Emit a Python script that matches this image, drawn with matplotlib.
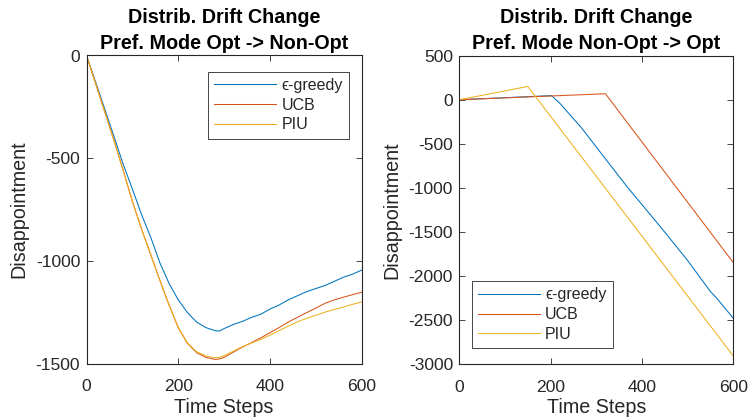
import matplotlib
matplotlib.use("Agg")
import matplotlib.pyplot as plt

plt.rcParams['font.family'] = ['Liberation Sans', 'DejaVu Sans']
plt.rcParams['axes.unicode_minus'] = False

# MATLAB default line colours
C_EPS = '#0072BD'
C_UCB = '#D95319'
C_PIU = '#EDB120'

series_names = ['\u03f5-greedy', 'UCB', 'PIU']

# Left panel: preferred mode Opt -> Non-Opt
t_left = [0, 20, 40, 60, 80, 100, 120, 140, 160, 180, 200, 220, 240, 260, 280, 290,
          300, 320, 340, 360, 380, 400, 420, 440, 460, 480, 500, 520, 540, 560, 580, 600]
eps_left = [0, -130, -262, -395, -530, -650, -775, -885, -1010, -1110, -1190, -1252,
            -1298, -1325, -1340, -1342, -1330, -1310, -1295, -1275, -1260, -1235, -1215,
            -1190, -1170, -1150, -1135, -1120, -1100, -1080, -1065, -1045]
ucb_left = [0, -138, -276, -414, -560, -710, -845, -970, -1095, -1215, -1325, -1402,
            -1447, -1470, -1480, -1478, -1470, -1445, -1420, -1398, -1375, -1350, -1325,
            -1298, -1275, -1252, -1230, -1207, -1190, -1177, -1165, -1153]
piu_left = [0, -138, -276, -414, -560, -710, -845, -970, -1095, -1215, -1325, -1400,
            -1443, -1463, -1472, -1470, -1462, -1440, -1418, -1400, -1383, -1362, -1340,
            -1318, -1297, -1280, -1265, -1250, -1237, -1225, -1212, -1200]

# Right panel: preferred mode Non-Opt -> Opt
t_eps_right = [0, 202, 221, 268, 316, 367, 440, 499, 550, 564, 600]
eps_right = [0, 47, -45, -322, -644, -985, -1440, -1818, -2178, -2254, -2481]
t_ucb_right = [0, 320, 600]
ucb_right = [0, 68, -1849]
t_piu_right = [0, 150, 600]
piu_right = [0, 151, -2909]

W, H = 748, 419
fig = plt.figure(figsize=(W / 100, H / 100), dpi=100)


def px_axes(x0, y0, x1, y1):
    return fig.add_axes([x0 / W, 1 - y1 / H, (x1 - x0) / W, (y1 - y0) / H])


ax1 = px_axes(86.5, 55.5, 361.7, 363.5)
ax2 = px_axes(459.3, 55.7, 733.3, 364.0)

AX_COL = '#262626'
TICK_FS = 12.6
LABEL_FS = 14.2
TITLE_FS = 14.2

for ax in (ax1, ax2):
    for sp in ax.spines.values():
        sp.set_color(AX_COL)
        sp.set_linewidth(0.8)
    ax.tick_params(direction='in', length=4, width=0.6, colors=AX_COL,
                   labelsize=TICK_FS, top=True, right=True)
    ax.tick_params(axis='x', pad=11.5)
    ax.tick_params(axis='y', pad=4.5)
    ax.set_xlim(0, 600)
    ax.set_xticks([0, 200, 400, 600])
    ax.set_xlabel('Time Steps', fontsize=LABEL_FS, color=AX_COL, labelpad=2.5)
    ax.set_ylabel('Disappointment', fontsize=LABEL_FS, color=AX_COL, labelpad=5)

lw = 0.75
ax1.plot(t_left, eps_left, color=C_EPS, lw=lw, label=series_names[0])
ax1.plot(t_left, ucb_left, color=C_UCB, lw=lw, label=series_names[1])
ax1.plot(t_left, piu_left, color=C_PIU, lw=lw, label=series_names[2])
ax1.set_ylim(-1500, 0)
ax1.set_yticks([-1500, -1000, -500, 0])
ax1.set_title('Distrib. Drift Change\nPref. Mode Opt -> Non-Opt',
              fontsize=TITLE_FS, fontweight='bold', color='black', pad=5, linespacing=1.45)

ax2.plot(t_eps_right, eps_right, color=C_EPS, lw=lw, label=series_names[0])
ax2.plot(t_ucb_right, ucb_right, color=C_UCB, lw=lw, label=series_names[1])
ax2.plot(t_piu_right, piu_right, color=C_PIU, lw=lw, label=series_names[2])
ax2.set_ylim(-3000, 500)
ax2.set_yticks(list(range(-3000, 501, 500)))
ax2.set_title('Distrib. Drift Change\nPref. Mode Non-Opt -> Opt',
              fontsize=TITLE_FS, fontweight='bold', color='black', pad=5, linespacing=1.45)

leg_kw = dict(fontsize=11.5, frameon=True, fancybox=False, shadow=False,
              handlelength=3.9, handletextpad=0.3, labelspacing=0.3,
              borderpad=0.4, borderaxespad=0.0)

l1 = ax1.legend(loc='upper right', bbox_to_anchor=(0.954, 0.948), **leg_kw)
l2 = ax2.legend(loc='lower left', bbox_to_anchor=(0.045, 0.051), **leg_kw)
for lg in (l1, l2):
    fr = lg.get_frame()
    fr.set_edgecolor(AX_COL)
    fr.set_linewidth(0.6)
    fr.set_facecolor('white')
    fr.set_alpha(1)
    for txt in lg.get_texts():
        txt.set_color(AX_COL)
    for ln in lg.get_lines():
        ln.set_linewidth(lw)

fig.savefig('out.png', dpi=100)
